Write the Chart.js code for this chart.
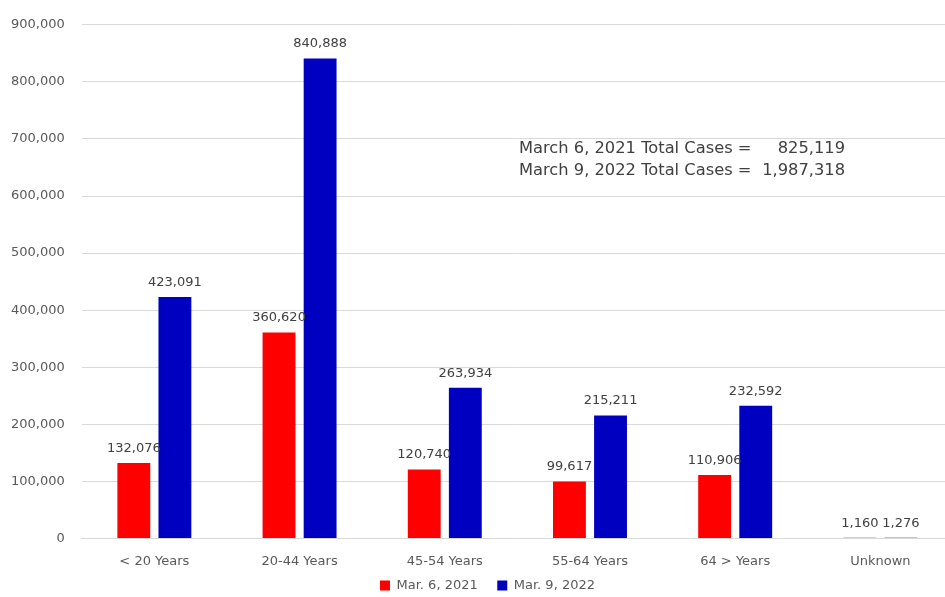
<!DOCTYPE html>
<html>
<head>
<meta charset="utf-8">
<script src="https://cdn.jsdelivr.net/npm/chart.js@4"></script>
<style>
html,body{margin:0;padding:0;background:#fff;overflow:hidden;}
#wrap{width:959px;height:602px;margin-left:-6px;}
</style>
</head>
<body>
<div id="wrap"><canvas id="casesChart"></canvas></div>
<script>
// DATA

const ageGroups = ["< 20 Years", "20-44 Years", "45-54 Years", "55-64 Years", "64 > Years", "Unknown"];
const cases2021 = [132076, 360620, 120740, 99617, 110906, 1160];
const cases2022 = [423091, 840888, 263934, 215211, 232592, 1276];
const yTicks = [0, 100000, 200000, 300000, 400000, 500000, 600000, 700000, 800000, 900000];
const totalLines = ["March 6, 2021 Total Cases =", "March 9, 2022 Total Cases ="];
const totalValues = ["825,119", "1,987,318"];

const FONT = "'DejaVu Sans', sans-serif";
const fmt = v => v.toLocaleString("en-US");

// value labels above each bar
const barLabels = {
  id: "barLabels",
  afterDatasetsDraw(chart) {
    const ctx = chart.ctx;
    ctx.save();
    ctx.font = "13px " + FONT;
    ctx.fillStyle = "#404040";
    ctx.textAlign = "center";
    ctx.textBaseline = "bottom";
    chart.data.datasets.forEach((ds, i) => {
      chart.getDatasetMeta(i).data.forEach((bar, j) => {
        ctx.fillText(fmt(ds.data[j]), bar.x, bar.y - 8);
      });
    });
    ctx.restore();
  }
};

// totals note (canvas is shifted 6px left of the page)
const totalsNote = {
  id: "totalsNote",
  afterLayout(chart) {
    // legend sits a bit right of centre in the original
    chart.legend.left += 14;
    chart.legend.right += 14;
  },
  afterDraw(chart) {
    const ctx = chart.ctx;
    ctx.save();
    ctx.font = "16.3px " + FONT;
    ctx.fillStyle = "#404040";
    ctx.textBaseline = "middle";
    totalLines.forEach((t, i) => {
      const y = 149 + i * 22;
      ctx.textAlign = "left";
      ctx.fillText(t, 525, y);
      ctx.textAlign = "right";
      ctx.fillText(totalValues[i], 851, y);
    });
    ctx.restore();
  }
};

new Chart(document.getElementById("casesChart"), {
  type: "bar",
  data: {
    labels: ageGroups,
    datasets: [{
      label: "Mar. 6, 2021",
      data: cases2021,
      backgroundColor: "#ff0000",
      categoryPercentage: 0.566,
      barPercentage: 0.8
    }, {
      label: "Mar. 9, 2022",
      data: cases2022,
      backgroundColor: "#0000c0",
      categoryPercentage: 0.566,
      barPercentage: 0.8
    }]
  },
  options: {
    responsive: true,
    maintainAspectRatio: false,
    animation: false,
    layout: { padding: { top: 4, right: 0, left: 0, bottom: 0 } },
    plugins: {
      legend: {
        position: "bottom",
        labels: {
          boxWidth: 10,
          boxHeight: 10,
          padding: 3,
          color: "#595959",
          font: { family: FONT, size: 13 },
          generateLabels: chart => {
            const items = Chart.defaults.plugins.legend.labels.generateLabels(chart);
            items[0].text += "    ";
            return items;
          }
        }
      },
      tooltip: { enabled: false }
    },
    scales: {
      x: {
        grid: { display: false },
        border: { color: "#d9d9d9" },
        ticks: {
          color: "#595959",
          padding: 7,
          font: { family: FONT, size: 13 }
        }
      },
      y: {
        min: 0,
        max: 900000,
        afterBuildTicks: axis => { axis.ticks = yTicks.map(v => ({ value: v })); },
        grid: { color: "#d9d9d9", drawTicks: false },
        border: { display: false },
        ticks: {
          color: "#595959",
          padding: 17,
          callback: v => fmt(v),
          font: { family: FONT, size: 13 }
        }
      }
    }
  },
  plugins: [barLabels, totalsNote]
});
</script>
</body>
</html>
